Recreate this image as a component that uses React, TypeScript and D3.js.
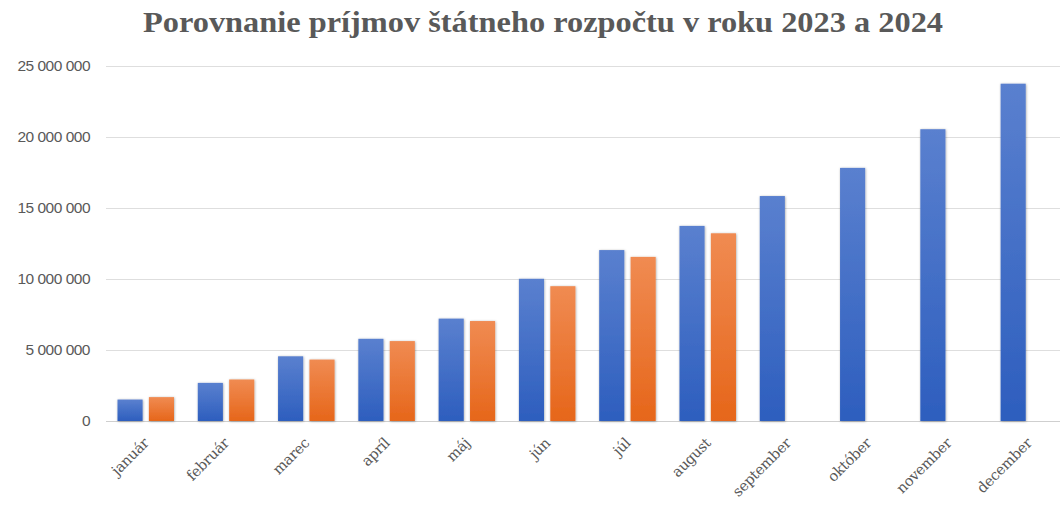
import React, { useEffect, useRef } from 'react';
import * as d3 from 'd3';

// Mesiace a hodnoty príjmov (odčítané z grafu)
const months = ['január', 'február', 'marec', 'apríl', 'máj', 'jún', 'júl', 'august', 'september', 'október', 'november', 'december'];
const values2023 = [1510000, 2680000, 4550000, 5780000, 7200000, 10000000, 12020000, 13720000, 15820000, 17800000, 20520000, 23720000];
const values2024 = [1680000, 2920000, 4320000, 5620000, 7030000, 9480000, 11540000, 13200000, null, null, null, null];
const yTicks = [0, 5000000, 10000000, 15000000, 20000000, 25000000];

const title = 'Porovnanie príjmov štátneho rozpočtu v roku 2023 a 2024';

const App = () => {
  const ref = useRef<SVGSVGElement>(null);

  useEffect(() => {
    document.body.style.margin = '0';
    const w = 1060;
    const h = 505;
    const svg = d3.select(ref.current);
    svg.selectAll('*').remove();

    const x = d3.scaleBand().domain(months).range([105.6, 1069]).paddingInner(0).paddingOuter(0);
    const xs = d3.scaleBand().domain(['2023', '2024']).range([11.9, 68.4]).paddingInner(0.2);
    const y = d3.scaleLinear().domain([0, 25000000]).range([421, 65.5]);

    const defs = svg.append('defs');
    const grad = (id, top, bottom) => {
      const g = defs.append('linearGradient').attr('id', id).attr('x1', 0).attr('y1', 0).attr('x2', 0).attr('y2', 1);
      g.append('stop').attr('offset', '0%').attr('stop-color', top);
      g.append('stop').attr('offset', '100%').attr('stop-color', bottom);
    };
    grad('gBlue', '#5a80cf', '#2d5ebe');
    grad('gOrange', '#f08b52', '#e6661a');
    const f = defs.append('filter').attr('id', 'shadow').attr('x', '-30%').attr('y', '-10%').attr('width', '160%').attr('height', '120%');
    f.append('feDropShadow').attr('dx', 0.5).attr('dy', 0.5).attr('stdDeviation', 1.2).attr('flood-color', '#000').attr('flood-opacity', 0.35);

    svg.append('rect').attr('width', w).attr('height', h).attr('fill', '#fff');

    // Title
    svg.append('text')
      .attr('x', 543)
      .attr('y', 32)
      .attr('text-anchor', 'middle')
      .attr('textLength', 800)
      .attr('lengthAdjust', 'spacingAndGlyphs')
      .style('font-family', '"Liberation Serif", "DejaVu Serif", serif')
      .style('font-weight', 'bold')
      .style('font-size', '29px')
      .style('fill', '#595959')
      .text(title);

    // Grid + y labels
    const grid = svg.append('g');
    grid.selectAll('line').data(yTicks).enter().append('line')
      .attr('x1', 106).attr('x2', w)
      .attr('y1', (d) => Math.round(y(d)) + 0.5).attr('y2', (d) => Math.round(y(d)) + 0.5)
      .attr('stroke', (d) => (d === 0 ? '#cfcfcf' : '#dedede'))
      .attr('stroke-width', 1.2);
    grid.selectAll('text').data(yTicks).enter().append('text')
      .attr('x', 90)
      .attr('y', (d) => y(d))
      .attr('dy', '0.35em')
      .attr('text-anchor', 'end')
      .style('font-family', '"Liberation Sans", Arial, sans-serif')
      .style('font-size', '15.5px')
      .style('letter-spacing', '-0.5px')
      .style('fill', '#595959')
      .text((d) => d3.format(',')(d).replace(/,/g, ' '));

    // Bars
    const groups = svg.append('g').selectAll('g').data(months).enter().append('g')
      .attr('transform', (d) => `translate(${x(d)},0)`);
    groups.append('rect')
      .attr('x', xs('2023'))
      .attr('width', xs.bandwidth())
      .attr('y', (_, i) => y(values2023[i]))
      .attr('height', (_, i) => y(0) - y(values2023[i]))
      .attr('fill', 'url(#gBlue)')
      .attr('filter', 'url(#shadow)');
    groups.filter((_, i) => values2024[i] != null).append('rect')
      .attr('x', xs('2024'))
      .attr('width', xs.bandwidth())
      .attr('y', (d) => y(values2024[months.indexOf(d)]))
      .attr('height', (d) => y(0) - y(values2024[months.indexOf(d)]))
      .attr('fill', 'url(#gOrange)')
      .attr('filter', 'url(#shadow)');

    // X labels
    svg.append('g').selectAll('text').data(months).enter().append('text')
      .attr('transform', (d) => `translate(${x(d) + x.bandwidth() / 2 + 4},444) rotate(-45)`)
      .attr('text-anchor', 'end')
      .style('font-family', '"DejaVu Serif", "Liberation Serif", serif')
      .style('font-size', '14.5px')
      .style('letter-spacing', '-0.3px')
      .style('fill', '#595959')
      .text((d) => d);
  }, []);

  return <svg ref={ref} width={1060} height={505} style={{ display: 'block' }} />;
};

export default App;
